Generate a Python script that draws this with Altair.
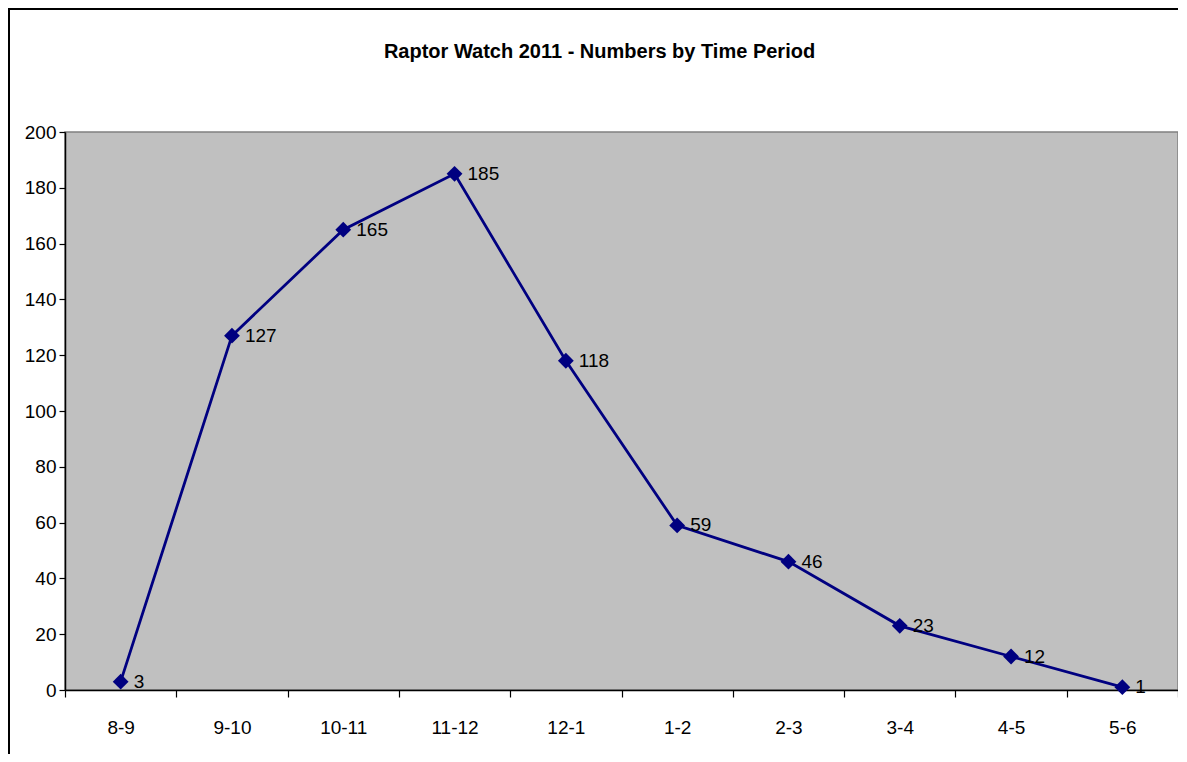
import altair as alt
import pandas as pd

periods = ["8-9", "9-10", "10-11", "11-12", "12-1", "1-2", "2-3", "3-4", "4-5", "5-6"]
counts = [3, 127, 165, 185, 118, 59, 46, 23, 12, 1]
y_ticks = list(range(0, 201, 20))
title_text = "Raptor Watch 2011 - Numbers by Time Period"

df = pd.DataFrame({"period": periods, "count": counts})

FONT = "Liberation Sans, Arial, sans-serif"
NAVY = "#000080"
W, H = 1113, 558

x_enc = alt.X(
    "period:N",
    sort=periods,
    scale=alt.Scale(type="band", paddingInner=0, paddingOuter=0),
    axis=alt.Axis(
        title=None, labelAngle=0, tickBand="extent", tickSize=7,
        labelPadding=30, labelBaseline="middle", grid=False,
        domainColor="black", tickColor="black",
    ),
)
y_enc = alt.Y(
    "count:Q",
    scale=alt.Scale(domain=[0, 200], nice=False, zero=True),
    axis=alt.Axis(
        title=None, values=y_ticks, tickSize=6, labelPadding=3, grid=False,
        domainColor="black", tickColor="black",
    ),
)

base = alt.Chart(df).encode(x=x_enc, y=y_enc)

line = base.mark_line(color=NAVY, strokeWidth=2.8)
points = base.mark_point(shape="diamond", filled=True, size=250, color=NAVY, opacity=1)
labels = base.mark_text(
    align="left", baseline="middle", dx=13, font=FONT, fontSize=19, color="black"
).encode(text="count:Q")

border = alt.Chart(pd.DataFrame({"a": [0]})).mark_rect(
    filled=False, stroke="black", strokeWidth=2, fillOpacity=0
).encode(
    x=alt.value(-56), x2=alt.value(W + 60),
    y=alt.value(-123), y2=alt.value(H + 150),
)

chart = alt.layer(border, line, points, labels).properties(
    width=W,
    height=H,
    autosize=alt.AutoSizeParams(type="none"),
    padding={"left": 57, "top": 124, "right": 0, "bottom": 64},
    background="white",
    title=alt.Title(
        title_text, font=FONT, fontSize=20, fontWeight="bold",
        anchor="middle", frame="group", baseline="middle",
        offset=-64, dx=-22, color="black",
    ),
).configure_view(
    fill="#C0C0C0", stroke="#808080", strokeWidth=1.5
).configure_axis(
    labelFont=FONT, labelFontSize=19, labelColor="black",
    domainWidth=1.5, tickWidth=1.2,
)

chart.save("out.html", embed_options={"renderer": "svg", "actions": False})
